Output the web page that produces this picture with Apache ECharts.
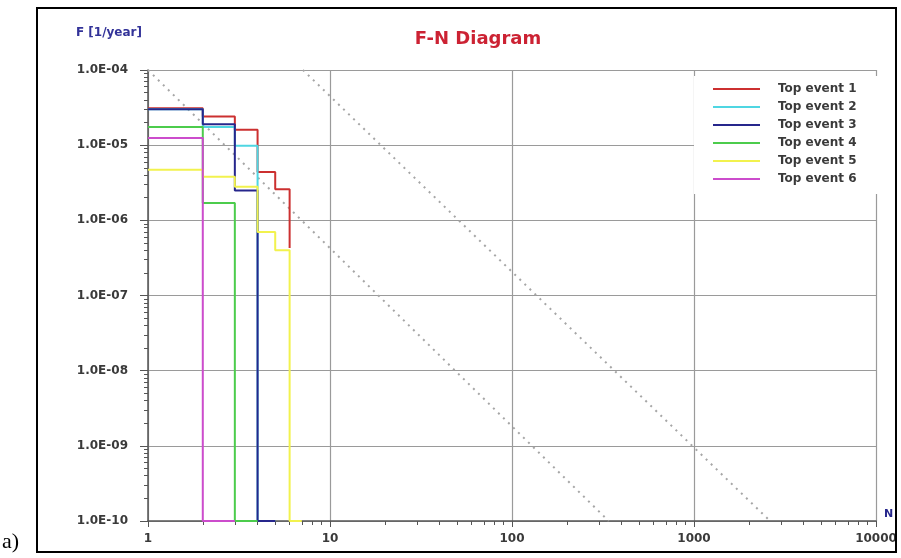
<!DOCTYPE html>
<html>
<head>
<meta charset="utf-8">
<style>
  html, body { margin: 0; padding: 0; background: #fff; }
  #chart { width: 901px; height: 558px; }
</style>
<script src="https://cdn.jsdelivr.net/npm/echarts@6.0.0/dist/echarts.min.js"></script>
</head>
<body>
<div id="chart"></div>
<script>
// F values per top event, read at N = 1, 2, 3, ... (step curves)
const eventNames = ['Top event 1', 'Top event 2', 'Top event 3', 'Top event 4', 'Top event 5', 'Top event 6']
const eventColors = ['#cc3030', '#4fd6e2', '#26268c', '#4ccc4c', '#f2f24e', '#cc4ccc']
const event1 = [3.1e-5, 2.4e-5, 1.6e-5, 4.4e-6, 2.6e-6, 4.3e-7]
const event2 = [3.0e-5, 1.75e-5, 9.8e-6, 1e-10, 1e-10]
const event3 = [3.0e-5, 1.9e-5, 2.5e-6, 1e-10, 1e-10]
const event4 = [1.75e-5, 1.7e-6, 1e-10, 1e-10]
const event5 = [4.7e-6, 3.8e-6, 2.8e-6, 7.0e-7, 4.0e-7, 1e-10, 1e-10]
const event6 = [1.25e-5, 1e-10, 1e-10]

// dotted criterion lines [N, F]
const criterionLow = [[1, 1e-4], [340, 1e-10]]
const criterionHigh = [[7.1, 1e-4], [2620, 1e-10]]

// axis ranges and tick labels
const nTicks = [1, 10, 100, 1000, 10000]
const fTicks = [1e-10, 1e-9, 1e-8, 1e-7, 1e-6, 1e-5, 1e-4]

// minor ticks at 2..9 of each decade (log10 positions)
const minorN = []
for (let d = 0; d < 4; d++) for (let k = 2; k <= 9; k++) minorN.push(Math.log10(k) + d)
const minorF = []
for (let d = -10; d < -4; d++) for (let k = 2; k <= 9; k++) minorF.push(Math.log10(k) + d)

const toPairs = arr => arr.map((f, i) => [i + 1, f])
const eventData = [event1, event2, event3, event4, event5, event6]

const labelFont = { fontFamily: 'DejaVu Sans', fontWeight: 'bold', fontSize: 12, color: '#3a3a3a' }

const fmtF = v => {
  const e = Math.round(Math.log10(v))
  return '1.0E' + (e < 0 ? '-' : '+') + String(Math.abs(e)).padStart(2, '0')
}

const chart = echarts.init(document.getElementById('chart'))

const series = [
  {
    type: 'line', data: criterionLow, symbol: 'none', silent: true, z: 1,
    xAxisIndex: 0, yAxisIndex: 0,
    lineStyle: { color: '#a6a6a6', width: 2, type: [2, 5] }
  },
  {
    type: 'line', data: criterionHigh, symbol: 'none', silent: true, z: 1,
    xAxisIndex: 0, yAxisIndex: 0,
    lineStyle: { color: '#a6a6a6', width: 2, type: [2, 5] }
  }
]
eventData.forEach((arr, i) => {
  series.push({
    name: eventNames[i],
    type: 'line',
    step: 'end',
    data: toPairs(arr),
    xAxisIndex: 0, yAxisIndex: 0,
    symbol: 'none',
    z: 2,
    color: eventColors[i],
    lineStyle: { color: eventColors[i], width: 2 }
  })
})

chart.setOption({
  animation: false,
  backgroundColor: '#fff',
  title: {
    text: 'F-N Diagram',
    left: 473, top: 25, textAlign: 'center',
    textStyle: { color: '#cc2233', fontFamily: 'DejaVu Sans', fontWeight: 'bold', fontSize: 18 }
  },
  grid: { left: 148, right: 25, top: 70, bottom: 37 },
  legend: {
    data: eventNames,
    orient: 'vertical',
    left: 694, top: 76,
    padding: [6, 24, 8, 19],
    backgroundColor: '#fff',
    icon: 'rect',
    itemWidth: 47, itemHeight: 2, itemGap: 4,
    textStyle: Object.assign({}, labelFont, { fontSize: 12, lineHeight: 14, padding: [0, 0, 0, 13] })
  },
  xAxis: [
    {
      type: 'log', logBase: 10, min: nTicks[0], max: nTicks[nTicks.length - 1],
      name: 'N', nameLocation: 'end', nameGap: 8,
      nameTextStyle: { color: '#26268c', fontFamily: 'DejaVu Sans', fontWeight: 'bold', fontSize: 11, verticalAlign: 'bottom', padding: [0, 0, 1, 0] },
      axisLine: { lineStyle: { color: '#555', width: 1.5 } },
      axisTick: { length: 6, lineStyle: { color: '#555' } },
      axisLabel: Object.assign({ margin: 12, formatter: v => String(v) }, labelFont),
      splitLine: { show: true, lineStyle: { color: '#9a9a9a', width: 1.2 } }
    },
    {
      type: 'value', min: 0, max: 4, position: 'bottom',
      axisLine: { show: false },
      axisLabel: { show: false },
      splitLine: { show: false },
      axisTick: { customValues: minorN, length: 4, lineStyle: { color: '#555' } }
    }
  ],
  yAxis: [
    {
      type: 'log', logBase: 10, min: fTicks[0], max: fTicks[fTicks.length - 1],
      name: 'F [1/year]', nameLocation: 'end', nameGap: 37,
      nameTextStyle: { color: '#333399', fontFamily: 'DejaVu Sans', fontWeight: 'bold', fontSize: 12, align: 'right', verticalAlign: 'middle', padding: [0, 6, 0, 0] },
      axisLine: { lineStyle: { color: '#555', width: 1.5 } },
      axisTick: { length: 8, lineStyle: { color: '#555' } },
      axisLabel: Object.assign({ margin: 20, formatter: fmtF }, labelFont),
      splitLine: { show: true, lineStyle: { color: '#9a9a9a', width: 1.2 } }
    },
    {
      type: 'value', min: -10, max: -4, position: 'left',
      axisLine: { show: false },
      axisLabel: { show: false },
      splitLine: { show: false },
      axisTick: { customValues: minorF, length: 4, lineStyle: { color: '#555' } }
    }
  ],
  graphic: [
    {
      type: 'rect', silent: true, z: 10,
      shape: { x: 37, y: 8, width: 859, height: 544 },
      style: { fill: 'none', stroke: '#000', lineWidth: 2 }
    },
    {
      type: 'text', left: 2, top: 531, z: 10,
      style: { text: 'a)', fill: '#000', font: '22px "Liberation Serif"' }
    }
  ],
  series: series
})
</script>
</body>
</html>
